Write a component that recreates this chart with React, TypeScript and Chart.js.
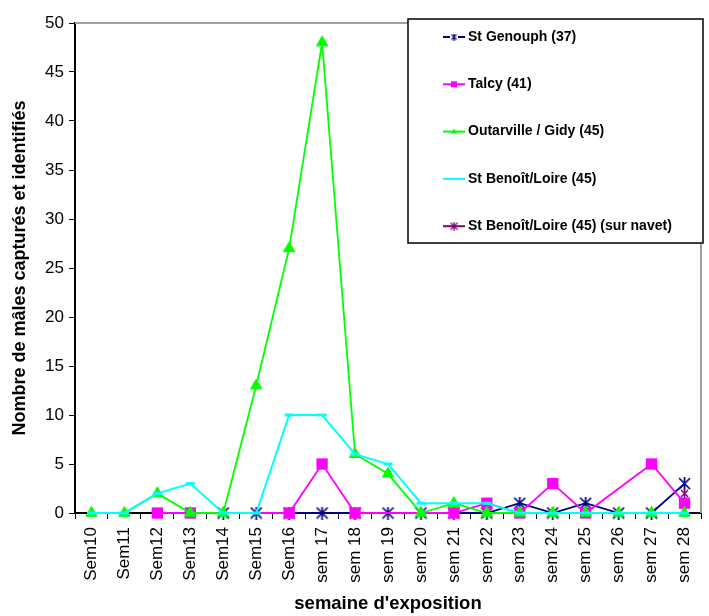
import React, { useEffect, useRef } from 'react';
import { Chart, registerables } from 'chart.js';

Chart.register(...registerables);

const weeks = ['Sem10', 'Sem11', 'Sem12', 'Sem13', 'Sem14', 'Sem15', 'Sem16', 'sem 17', 'sem 18', 'sem 19', 'sem 20', 'sem 21', 'sem 22', 'sem 23', 'sem 24', 'sem 25', 'sem 26', 'sem 27', 'sem 28'];

const seriesNames = ['St Genouph (37)', 'Talcy (41)', 'Outarville / Gidy (45)', 'St Benoît/Loire (45)', 'St Benoît/Loire (45) (sur navet)'];

const stGenouph = [null, null, null, null, 0, 0, 0, 0, 0, 0, 0, 0, 0, 1, 0, 1, 0, 0, 3];
const talcy = [null, null, 0, 0, null, null, 0, 5, 0, null, null, 0, 1, 0, 3, 0, null, 5, 1];
const outarville = [0, 0, 2, 0, 0, 13, 27, 48, 6, 4, 0, 1, 0, 0, 0, 0, 0, 0, 0];
const stBenoit = [0, 0, 2, 3, 0, 0, 10, 10, 6, 5, 1, 1, 1, 0, 0, 0, 0, 0, 0];
const stBenoitNavet = [null, null, null, null, null, null, null, null, null, null, null, null, null, null, null, null, null, null, 2];

const yTicks = [0, 5, 10, 15, 20, 25, 30, 35, 40, 45, 50];

const xTitle = "semaine d'exposition";
const yTitle = 'Nombre de mâles capturés et identifiés';

const FONT = 'Arial, "Liberation Sans", sans-serif';

function makeAsterisk(color: string, size: number, lw: number) {
  const c = document.createElement('canvas');
  c.width = size;
  c.height = size;
  const ctx = c.getContext('2d')!;
  ctx.strokeStyle = color;
  ctx.lineWidth = lw;
  ctx.beginPath();
  ctx.moveTo(1, 1);
  ctx.lineTo(size - 1, size - 1);
  ctx.moveTo(size - 1, 1);
  ctx.lineTo(1, size - 1);
  ctx.moveTo(size / 2, 0);
  ctx.lineTo(size / 2, size);
  ctx.stroke();
  return c;
}

export default function App() {
  const ref = useRef<HTMLCanvasElement | null>(null);

  useEffect(() => {
    if (!ref.current) return;
    const navyMarker = makeAsterisk('#000080', 13, 1.7);
    const purpleMarker = makeAsterisk('#800080', 9, 1.5);
    const navyLegend = makeAsterisk('#000080', 7, 1.2);
    const purpleLegend = makeAsterisk('#800080', 9, 1.2);

    const colors = ['#000080', '#FF00FF', '#00FF00', '#00FFFF', '#800080'];

    const frame = {
      id: 'frame',
      beforeDatasetsDraw(chart: any) {
        const { ctx, chartArea } = chart;
        ctx.save();
        ctx.strokeStyle = '#a0a0a0';
        ctx.lineWidth = 2;
        ctx.beginPath();
        ctx.moveTo(chartArea.left, chartArea.top);
        ctx.lineTo(chartArea.right, chartArea.top);
        ctx.lineTo(chartArea.right, chartArea.bottom);
        ctx.stroke();
        ctx.restore();
      },
    };

    const legendBox = {
      id: 'legendBox',
      afterDraw(chart: any) {
        const { ctx } = chart;
        ctx.save();
        ctx.fillStyle = '#ffffff';
        ctx.fillRect(408, 19, 295, 224);
        ctx.strokeStyle = '#000000';
        ctx.lineWidth = 1.5;
        ctx.strokeRect(408, 19, 295, 224);
        ctx.font = `bold 14px ${FONT}`;
        ctx.textBaseline = 'middle';
        ctx.textAlign = 'left';
        for (let i = 0; i < seriesNames.length; i++) {
          const y = 37 + i * 47.3;
          ctx.strokeStyle = colors[i];
          ctx.lineWidth = 2;
          ctx.beginPath();
          ctx.moveTo(443, y);
          ctx.lineTo(465, y);
          ctx.stroke();
          const mx = 454;
          if (i === 0) {
            ctx.fillStyle = '#fff';
            ctx.fillRect(mx - 4, y - 2, 8, 4);
            ctx.drawImage(navyLegend, mx - 3.5, y - 3.5);
          } else if (i === 1) {
            ctx.fillStyle = colors[1];
            ctx.fillRect(mx - 3, y - 3, 6, 6);
          } else if (i === 2) {
            ctx.fillStyle = colors[2];
            ctx.beginPath();
            ctx.moveTo(mx, y - 3);
            ctx.lineTo(mx + 3, y + 2);
            ctx.lineTo(mx - 3, y + 2);
            ctx.closePath();
            ctx.fill();
          } else if (i === 4) {
            ctx.drawImage(purpleLegend, mx - 4.5, y - 4.5);
          }
          ctx.fillStyle = '#000000';
          ctx.fillText(seriesNames[i], 468, y);
        }
        ctx.restore();
      },
    };

    const chart = new Chart(ref.current, {
      type: 'line',
      data: {
        labels: weeks,
        datasets: [
          {
            label: seriesNames[0],
            data: stGenouph,
            borderColor: colors[0],
            backgroundColor: colors[0],
            borderWidth: 1.8,
            pointStyle: navyMarker as any,
            pointRadius: 6,
            spanGaps: true,
            clip: false,
            order: 5,
          },
          {
            label: seriesNames[1],
            data: talcy,
            borderColor: colors[1],
            backgroundColor: colors[1],
            borderWidth: 1.8,
            pointStyle: 'rect',
            pointRadius: 8,
            pointBorderWidth: 0,
            spanGaps: true,
            clip: false,
            order: 4,
          },
          {
            label: seriesNames[2],
            data: outarville,
            borderColor: colors[2],
            backgroundColor: colors[2],
            borderWidth: 1.8,
            pointStyle: 'triangle',
            pointRadius: 6.5,
            pointBorderWidth: 1,
            spanGaps: true,
            clip: false,
            order: 3,
          },
          {
            label: seriesNames[3],
            data: stBenoit,
            borderColor: colors[3],
            backgroundColor: colors[3],
            borderWidth: 2,
            pointStyle: 'line',
            pointRadius: 4.5,
            pointBorderWidth: 3,
            spanGaps: true,
            clip: false,
            order: 2,
          },
          {
            label: seriesNames[4],
            data: stBenoitNavet,
            borderColor: colors[4],
            backgroundColor: colors[4],
            borderWidth: 1.8,
            pointStyle: purpleMarker as any,
            pointRadius: 5,
            spanGaps: true,
            clip: false,
            order: 1,
          },
        ],
      },
      options: {
        responsive: false,
        animation: false,
        events: [],
        devicePixelRatio: 1,
        layout: { padding: { top: 23, right: 6, left: 0, bottom: 0 } },
        elements: { line: { tension: 0 } },
        plugins: {
          legend: { display: false },
          tooltip: { enabled: false },
        },
        scales: {
          x: {
            type: 'category',
            offset: true,
            grid: {
              offset: true,
              drawOnChartArea: false,
              drawTicks: true,
              tickLength: 6,
              color: '#000000',
              lineWidth: 1,
            },
            border: { color: '#000000', width: 2 },
            ticks: {
              autoSkip: false,
              maxRotation: 90,
              minRotation: 90,
              padding: 8,
              color: '#000000',
              font: { family: FONT, size: 17 },
            },
            title: {
              display: true,
              text: xTitle,
              color: '#000000',
              font: { family: FONT, size: 18.5, weight: 'bold' },
              padding: { top: 0, bottom: 1 },
            },
            afterFit(scale: any) {
              scale.height = 103;
              scale.paddingLeft = 0;
              scale.paddingRight = 0;
            },
          },
          y: {
            min: 0,
            max: 50,
            afterBuildTicks(scale: any) {
              scale.ticks = yTicks.map((v) => ({ value: v }));
            },
            grid: {
              drawOnChartArea: false,
              drawTicks: true,
              tickLength: 6,
              color: '#000000',
            },
            border: { color: '#000000', width: 2 },
            ticks: {
              padding: 5,
              color: '#000000',
              font: { family: FONT, size: 17 },
            },
            title: {
              display: true,
              text: yTitle,
              color: '#000000',
              font: { family: FONT, size: 18, weight: 'bold' },
              padding: { top: 9, bottom: 0 },
            },
            afterFit(scale: any) {
              scale.width = 75;
              scale.paddingTop = 0;
              scale.paddingBottom = 0;
            },
          },
        },
      },
      plugins: [frame, legendBox],
    } as any);

    return () => chart.destroy();
  }, []);

  return (
    <div style={{ position: 'absolute', left: 0, top: 0, width: 709, height: 616, background: '#ffffff' }}>
      <canvas ref={ref} width={709} height={616} style={{ width: 709, height: 616, display: 'block' }} />
    </div>
  );
}
